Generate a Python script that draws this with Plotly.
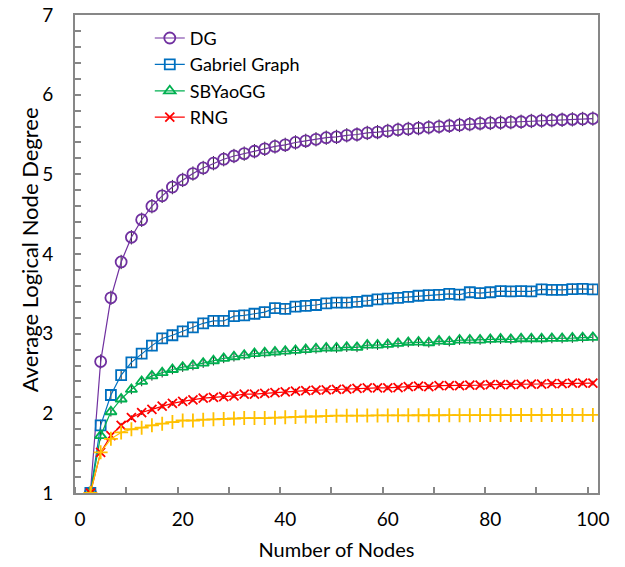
import plotly.graph_objects as go

nodes = list(range(2, 101, 2))

dg = [1.00, 2.65, 3.45, 3.90, 4.21, 4.43, 4.60, 4.73, 4.84, 4.93,
      5.01, 5.08, 5.14, 5.19, 5.23, 5.26, 5.29, 5.32, 5.35, 5.37,
      5.40, 5.42, 5.44, 5.46, 5.47, 5.49, 5.50, 5.52, 5.53, 5.545,
      5.56, 5.57, 5.58, 5.59, 5.60, 5.61, 5.62, 5.63, 5.64, 5.645,
      5.65, 5.655, 5.66, 5.67, 5.675, 5.68, 5.685, 5.69, 5.695, 5.70]

gabriel = [1.00, 1.85, 2.23, 2.48, 2.64, 2.75, 2.85, 2.94, 2.98, 3.03,
           3.08, 3.13, 3.16, 3.16, 3.22, 3.23, 3.25, 3.27, 3.32, 3.31,
           3.34, 3.35, 3.36, 3.38, 3.39, 3.39, 3.40, 3.413, 3.43, 3.44,
           3.45, 3.463, 3.476, 3.484, 3.488, 3.50, 3.49, 3.52, 3.51, 3.52,
           3.534, 3.53, 3.534, 3.53, 3.556, 3.55, 3.55, 3.56, 3.563, 3.556]

sbyaogg = [1.00, 1.72, 2.02, 2.18, 2.30, 2.40, 2.47, 2.51, 2.55, 2.58,
           2.60, 2.63, 2.66, 2.69, 2.71, 2.73, 2.75, 2.76, 2.77, 2.78,
           2.79, 2.80, 2.81, 2.82, 2.82, 2.83, 2.828, 2.857, 2.857, 2.865,
           2.878, 2.89, 2.895, 2.886, 2.907, 2.90, 2.92, 2.92, 2.92, 2.928,
           2.932, 2.928, 2.936, 2.936, 2.936, 2.94, 2.94, 2.945, 2.95, 2.953]

rng = [1.00, 1.51, 1.72, 1.85, 1.945, 2.01, 2.05, 2.09, 2.125, 2.15,
       2.17, 2.19, 2.20, 2.21, 2.22, 2.24, 2.24, 2.25, 2.26, 2.27,
       2.28, 2.285, 2.29, 2.295, 2.30, 2.305, 2.313, 2.32, 2.32, 2.32,
       2.323, 2.334, 2.342, 2.334, 2.347, 2.347, 2.347, 2.355, 2.355, 2.36,
       2.36, 2.36, 2.364, 2.368, 2.368, 2.372, 2.374, 2.38, 2.38, 2.38]

other = [1.00, 1.51, 1.68, 1.76, 1.80, 1.82, 1.85, 1.87, 1.89, 1.91,
         1.91, 1.92, 1.925, 1.93, 1.935, 1.94, 1.94, 1.94, 1.945, 1.95,
         1.955, 1.96, 1.96, 1.965, 1.97, 1.97, 1.972, 1.972, 1.974, 1.974,
         1.975, 1.975, 1.976, 1.976, 1.976, 1.977, 1.977, 1.977, 1.978, 1.978,
         1.978, 1.978, 1.979, 1.979, 1.979, 1.98, 1.98, 1.98, 1.98, 1.98]

x_tick_labels = [0, 20, 40, 60, 80, 100]
y_tick_labels = [1, 2, 3, 4, 5, 6, 7]

FONT = "Lato"
FS = 19

series = [
    ("DG", dg, "#7030A0", "circle-open", 11, 0.09, True),
    ("Gabriel Graph", gabriel, "#0070C0", "square-open", 10, 0.07, True),
    ("SBYaoGG", sbyaogg, "#00B050", "triangle-up-open", 10, 0.06, True),
    ("RNG", rng, "#FF0000", "x-thin-open", 9, 0.03, True),
    ("", other, "#FFC000", "cross-thin-open", 10, 0.0, False),
]

fig = go.Figure()
for name, ys, color, sym, size, err, show in series:
    fig.add_trace(go.Scatter(
        x=nodes, y=ys, name=name, mode="lines+markers",
        line=dict(color=color, width=1.2),
        marker=dict(symbol=sym, size=size, color=color,
                    line=dict(color=color, width=1.8)),
        error_y=dict(type="constant", value=err, color="#222222",
                     thickness=1, width=0, visible=err > 0),
        showlegend=show,
    ))

axis_common = dict(
    showline=True, linecolor="#878787", linewidth=2, mirror=True,
    showgrid=False, zeroline=False, automargin=False,
    ticklabeloverflow="allow",
    tickfont=dict(family=FONT, size=FS, color="#000000"),
)

fig.update_layout(
    width=625, height=567,
    margin=dict(l=75, r=27, t=15, b=74),
    paper_bgcolor="white", plot_bgcolor="white",
    font=dict(family=FONT, size=FS, color="#000000"),
    xaxis=dict(
        range=[-1, 101], tickvals=x_tick_labels, ticktext=[str(v) for v in x_tick_labels],
        ticks="", ticklabelstandoff=8,
        minor=dict(ticks="inside", tick0=-1, dtick=10, ticklen=6,
                   tickwidth=2, tickcolor="#878787"),
        title=dict(text="Number of Nodes", font=dict(family=FONT, size=20), standoff=14),
        **axis_common,
    ),
    yaxis=dict(
        range=[1, 7], tickvals=y_tick_labels,
        ticks="inside", ticklen=6, tickwidth=2, tickcolor="#878787",
        ticklabelstandoff=16,
        minor=dict(ticks="inside", dtick=0.2, ticklen=6,
                   tickwidth=2, tickcolor="#878787"),
        **axis_common,
    ),
    annotations=[dict(
        text="Average Logical Node Degree", textangle=-90,
        xref="paper", yref="paper", x=-0.088, y=0.51,
        xanchor="center", yanchor="middle", showarrow=False,
        font=dict(family=FONT, size=22, color="#000000"),
    )],
    legend=dict(
        x=0.143, y=0.99, xanchor="left", yanchor="top",
        bgcolor="rgba(0,0,0,0)", borderwidth=0,
        font=dict(family=FONT, size=18, color="#000000"),
        tracegroupgap=0,
    ),
)

fig.write_html("out.html", config={"displayModeBar": False},
               post_script="document.body.style.margin='0';")
